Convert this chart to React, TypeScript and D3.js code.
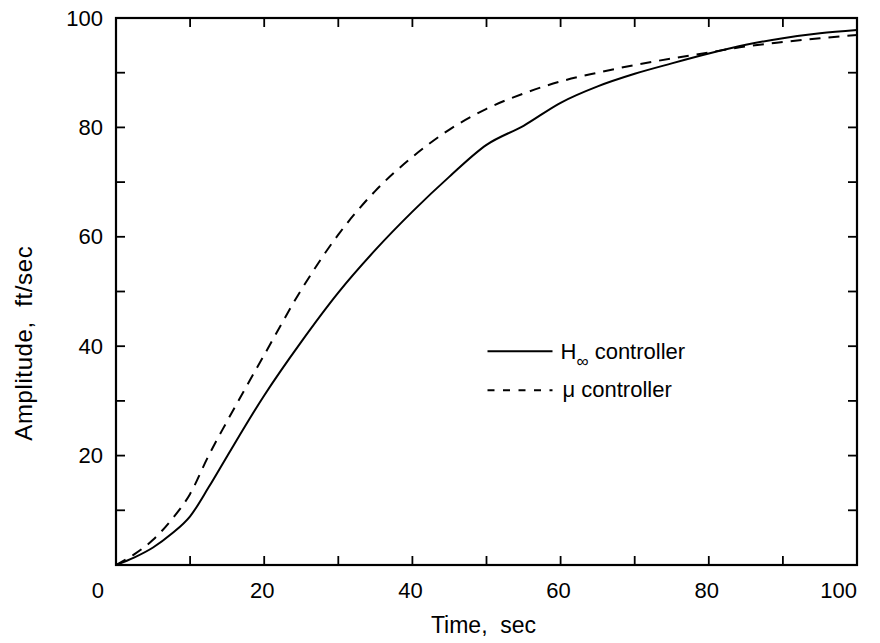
import React from "react";
import * as d3 from "d3";

const timeValues = [0, 2.5, 5, 7.5, 10, 12.5, 15, 20, 25, 30, 35, 40, 45, 50, 55, 60, 65, 70, 75, 80, 85, 90, 95, 100];
const hinfValues = [0, 1.4, 3.2, 5.7, 8.9, 14.2, 19.9, 31, 40.8, 49.8, 57.6, 64.6, 71, 76.8, 80.3, 84.5, 87.5, 89.8, 91.7, 93.5, 95.1, 96.3, 97.2, 97.8];
const muValues = [0, 2, 4.6, 8.3, 13, 20, 26.3, 38.4, 50.3, 60.4, 68.4, 74.6, 79.6, 83.4, 86.2, 88.4, 90, 91.4, 92.6, 93.7, 94.8, 95.6, 96.3, 96.9];
const xTickLabels = [0, 20, 40, 60, 80, 100];
const yTickLabels = [20, 40, 60, 80, 100];
const legendLabels = ["controller", "μ controller"];

const W = 880;
const H = 643;
const margin = { left: 116, top: 18, right: 23, bottom: 78 };
const FONT = "'Liberation Sans', Arial, Helvetica, sans-serif";

export default function App() {
  const iw = W - margin.left - margin.right;
  const ih = H - margin.top - margin.bottom;
  const x = d3.scaleLinear().domain([0, 100]).range([0, iw]);
  const y = d3.scaleLinear().domain([0, 100]).range([ih, 0]);
  const line = d3
    .line<number>()
    .x((_, i) => x(timeValues[i]))
    .y((d) => y(d))
    .curve(d3.curveMonotoneX);
  const minor = d3.range(0, 101, 10);
  const tickLen = 9;

  return (
    <div style={{ position: "absolute", left: 0, top: 0 }}>
      <svg width={W} height={H} style={{ display: "block", background: "#fff" }} fontFamily={FONT}>
        <g transform={`translate(${margin.left},${margin.top})`}>
          <path d={line(hinfValues) || ""} fill="none" stroke="#000" strokeWidth={2} />
          <path d={line(muValues) || ""} fill="none" stroke="#000" strokeWidth={2} strokeDasharray="11,8" />
          <rect x={0} y={0} width={iw} height={ih} fill="none" stroke="#000" strokeWidth={2.2} />
          {minor.slice(1, -1).map((v) => (
            <g key={"xt" + v}>
              <line x1={x(v)} x2={x(v)} y1={ih} y2={ih - tickLen} stroke="#000" strokeWidth={1.8} />
              <line x1={x(v)} x2={x(v)} y1={0} y2={tickLen} stroke="#000" strokeWidth={1.8} />
            </g>
          ))}
          {minor.slice(1, -1).map((v) => (
            <g key={"yt" + v}>
              <line x1={0} x2={tickLen} y1={y(v)} y2={y(v)} stroke="#000" strokeWidth={1.8} />
              <line x1={iw} x2={iw - tickLen} y1={y(v)} y2={y(v)} stroke="#000" strokeWidth={1.8} />
            </g>
          ))}
          {xTickLabels.map((v) => {
            const anchor = v === 0 ? "end" : v === 100 ? "end" : "middle";
            const dx = v === 0 ? -12 : v === 100 ? 0 : -2;
            return (
              <text key={"xl" + v} x={x(v) + dx} y={ih + 33} fontSize={22} textAnchor={anchor}>
                {v}
              </text>
            );
          })}
          {yTickLabels.map((v) => (
            <text key={"yl" + v} x={-13} y={y(v) + 7.5} fontSize={22} textAnchor="end">
              {v}
            </text>
          ))}
          <text x={x(50) - 3} y={ih + 68} fontSize={23} textAnchor="middle" style={{ whiteSpace: "pre" }}>
            {"Time,  sec"}
          </text>
          <text
            transform={`translate(${-84},${y(40) - 3}) rotate(-90)`}
            fontSize={24}
            textAnchor="middle"
            letterSpacing={0.6}
            style={{ whiteSpace: "pre" }}
          >
            {"Amplitude,  ft/sec"}
          </text>
          <g transform={`translate(${x(50) + 1},${y(40) + 5})`}>
            <line x1={0} x2={65} y1={0} y2={0} stroke="#000" strokeWidth={2} />
            <text x={73} y={8} fontSize={22}>
              H
              <tspan fontSize={17} dy={8}>∞</tspan>
              <tspan dy={-8}> {legendLabels[0]}</tspan>
            </text>
            <line x1={0} x2={65} y1={39} y2={39} stroke="#000" strokeWidth={2} strokeDasharray="7,8.5" />
            <text x={75} y={46} fontSize={22}>
              {legendLabels[1]}
            </text>
          </g>
        </g>
      </svg>
    </div>
  );
}
